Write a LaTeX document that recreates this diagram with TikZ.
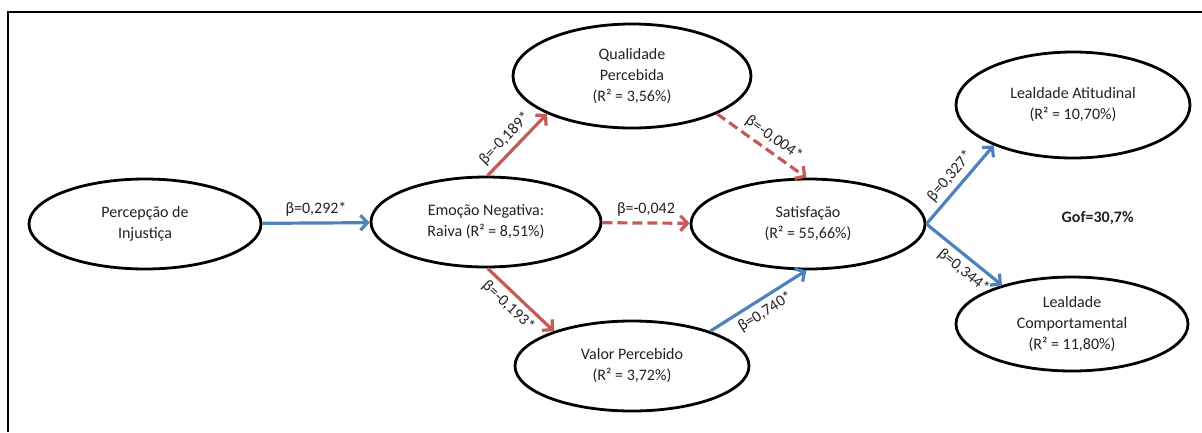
\documentclass[tikz,border=0pt]{standalone}
\usepackage{fontspec}
\setmainfont{Carlito}
\usetikzlibrary{arrows.meta,shapes.geometric}
\definecolor{posblue}{HTML}{4F81BD}
\definecolor{negred}{HTML}{C55A57}
\definecolor{ink}{HTML}{222222}
\begin{document}
\begin{tikzpicture}[x=1pt,y=-1pt,
  latent/.style={ellipse, draw=black, line width=2.8pt, inner sep=0pt,
    align=center, text=ink, font=\fontsize{16}{21}\selectfont},
  coef/.style={text=ink, font=\fontsize{16}{18}\selectfont, inner sep=1.5pt},
  pathpos/.style={draw=posblue, line width=3.2pt,
    -{Straight Barb[length=7pt,width=15pt]}},
  pathneg/.style={draw=negred, line width=3.2pt,
    -{Straight Barb[length=7pt,width=15pt]}},
  pathnegdash/.style={pathneg, dash pattern=on 10pt off 5pt}]
\useasboundingbox (0,0) rectangle (1202,432);
% frame
\draw[line width=1.8pt] (8,432) -- (8,12) -- (1202,12);

% constructs
\node[latent, minimum width=232pt, minimum height=90pt] (pi) at (145,224)
  {Percepção de\\Injustiça};
\node[latent, minimum width=230pt, minimum height=90pt] (emo) at (486,222)
  {Emoção Negativa:\\Raiva (R² = 8,51\%)};
\node[latent, minimum width=238pt, minimum height=104pt] (qp) at (632,76)
  {Qualidade\\Percebida\\(R² = 3,56\%)};
\node[latent, minimum width=234pt, minimum height=90pt] (vp) at (632,366)
  {Valor Percebido\\(R² = 3,72\%)};
\node[latent, minimum width=234pt, minimum height=90pt] (sat) at (808,224)
  {Satisfação\\(R² = 55,66\%)};
\node[latent, minimum width=234pt, minimum height=106pt] (la) at (1073,105)
  {Lealdade Atitudinal\\(R² = 10,70\%)};
\node[latent, minimum width=232pt, minimum height=94pt] (lc) at (1072,324)
  {Lealdade\\Comportamental\\(R² = 11,80\%)};
\node[coef, font=\fontsize{16}{18}\selectfont\bfseries, anchor=west] (gof) at (1060,218) {Gof=30,7\%};

% structural paths
\draw[pathpos] (pi) -- (emo) node[coef, midway, above=4pt] {β=0,292*};
\draw[pathnegdash] (emo) -- (sat) node[coef, midway, above=4pt] {β=-0,042};
\draw[pathneg] (emo.88) -- (qp.-156) node[coef, pos=0.45, sloped, above=3pt] {β=-0,189*};
\draw[pathneg] (emo.-88) -- (vp.156) node[coef, pos=0.45, sloped, below=3pt] {β=-0,193*};
\draw[pathnegdash] (qp.-24) -- (sat.92) node[coef, pos=0.55, sloped, above=3pt] {β=-0,004*};
\draw[pathpos] (vp.24) -- (sat.-92) node[coef, pos=0.5, sloped, below=3pt] {β=0,740*};
\draw[pathpos] (sat.east) -- (la.-153) node[coef, pos=0.5, sloped, above=3pt] {β=0,327*};
\draw[pathpos] (sat.east) -- (lc.151) node[coef, pos=0.6, sloped, below=3pt] {β=0,344*};
\end{tikzpicture}
\end{document}
